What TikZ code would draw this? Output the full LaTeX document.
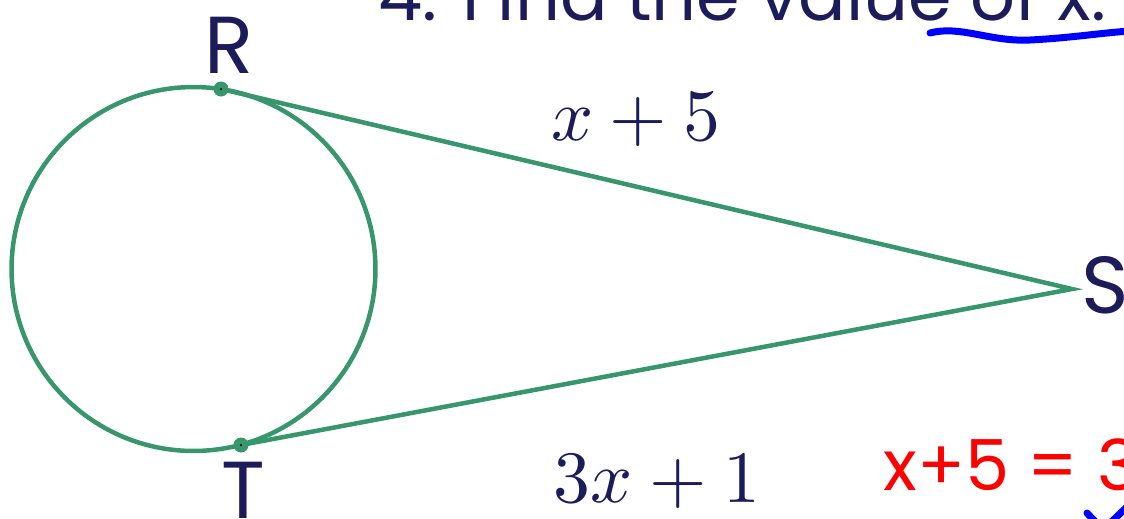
\documentclass[tikz,border=0pt]{standalone}
\usepackage{fontspec}
\usepackage{unicode-math}
\newfontfamily\labelfont{Poppins}
\usepackage{tikz}
\usetikzlibrary{calc}
\definecolor{circgreen}{RGB}{56,150,108}
\definecolor{labnavy}{RGB}{28,28,90}
\definecolor{inkred}{RGB}{255,0,0}
\definecolor{inkblue}{RGB}{0,0,255}

\begin{document}
\begin{tikzpicture}[
  x=0.02cm, y=-0.02cm,
  geo/.style={draw=circgreen, line width=0.09cm},
  ptdot/.style={circle, fill=circgreen, inner sep=0pt, minimum size=0.3cm,
    path picture={\fill[black] (path picture bounding box.center) circle (0.025cm);}},
  ptlabel/.style={font=\labelfont\fontsize{46}{50}\selectfont, text=labnavy, inner sep=0pt},
  seglabel/.style={font=\fontsize{42}{46}\selectfont, text=labnavy, inner sep=0pt},
  ink/.style={line width=0.14cm, line cap=round, line join=round},
]
\useasboundingbox (0,0) rectangle (1124,518);
\clip (0,0) rectangle (1124,518);

%% Title (cut off by the frame)
\node[ptlabel, anchor=base west, font=\labelfont\fontsize{40}{44}\selectfont] (title) at (378,20) {4. Find the value of x.};

%% Circle and the two tangents
\node[geo, circle, minimum size=7.28cm, inner sep=0pt] (circ) at (193.5,269) {};
\coordinate (R) at (221,89);
\coordinate (T) at (241,445);
\coordinate (S) at (1072,289);
\draw[geo] (R) -- (S) -- (T);
\node[ptdot] (Rdot) at (R) {};
\node[ptdot] (Tdot) at (T) {};

%% Point labels
\node[ptlabel, anchor=base] (Rlab) at (229,73) {R};
\node[ptlabel, anchor=base] (Tlab) at (243,518) {T};
\node[ptlabel, anchor=base] (Slab) at (1105,313) {S};

%% Segment lengths
\node[seglabel, anchor=base] (RSlab) at (636,140) {$x+5$};
\node[seglabel, anchor=base] (TSlab) at (657,502) {$3x+1$};

%% Pen marks
\node[anchor=base west, inner sep=0pt, text=inkred, font=\labelfont\fontsize{40}{44}\selectfont] (work) at (883,490) {x+5 = 3};
\coordinate (ul1) at (930,33);
\coordinate (ul2) at (1130,31);
\draw[ink, inkblue] (ul1) .. controls (960,25) and (990,42) .. (1030,40) .. controls (1070,38) and (1100,33) .. (ul2);
\coordinate (ck1) at (1087,513);
\coordinate (ck2) at (1103,530);
\coordinate (ck3) at (1132,502);
\draw[ink, inkblue] (ck1) -- (ck2) -- (ck3);
\end{tikzpicture}
\end{document}
